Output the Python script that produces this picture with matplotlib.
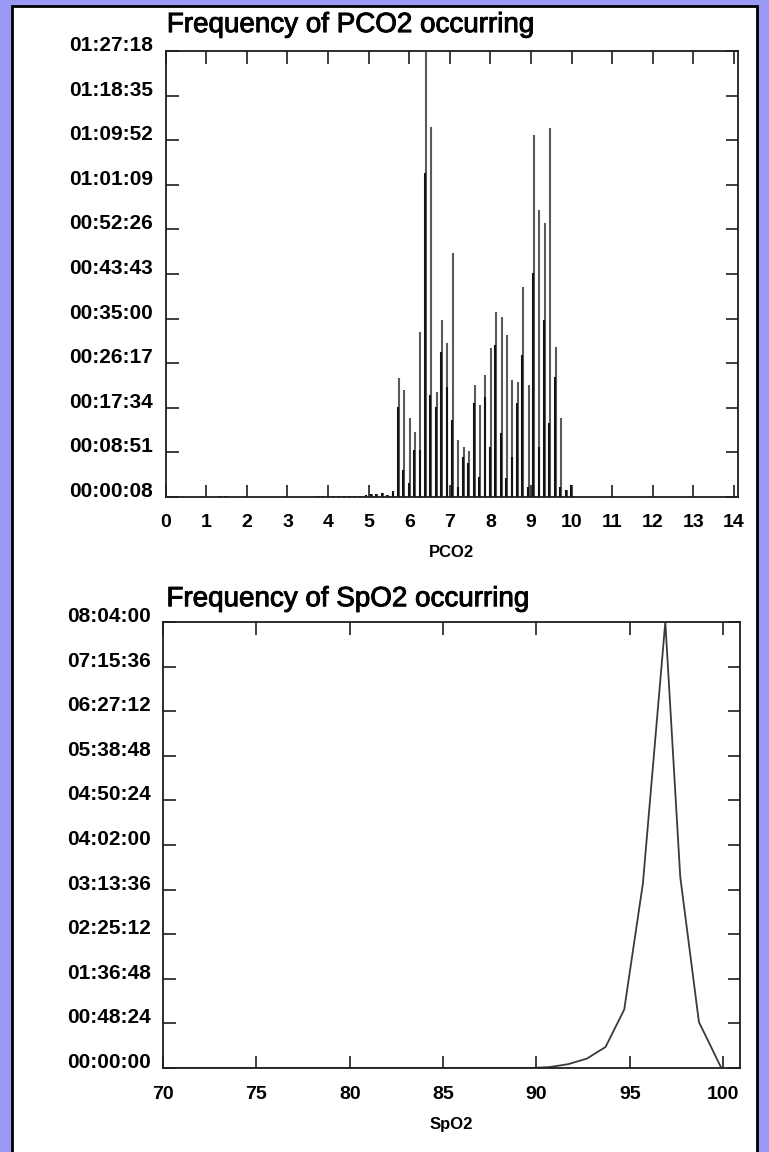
import numpy as np
import matplotlib
matplotlib.use("Agg")
from matplotlib import pyplot as plt
from matplotlib.patches import Rectangle
from matplotlib.ticker import FuncFormatter
import matplotlib.patheffects as pe

plt.rcParams['font.family'] = ['Liberation Sans', 'DejaVu Sans']
plt.rcParams['font.weight'] = 'bold'

MMHG_TO_KPA = 0.13332

# PCO2 histogram: one bin per mmHg, durations in seconds
pco2_bins_mmhg = list(range(10, 76))
pco2_upper_s = [
    15, 15, 12, 12, 0, 0, 0, 0, 10, 10, 10, 0, 0, 0, 12, 12, 12, 12, 15, 15,
    0, 15, 15, 20, 20, 20, 20, 30, 40, 45, 50, 30, 80,
    1400, 1263, 931, 774, 1946, 5400, 4347, 1243, 2084, 1810,
    2866, 676, 591, 551, 1321, 1087, 1439, 1752, 2177, 2119,
    1908, 1380, 1360, 2474, 1321, 4253, 3374, 3218, 4331, 1771,
    931, 90, 149,
]
pco2_lower_s = [
    15, 15, 12, 12, 0, 0, 0, 0, 10, 10, 10, 0, 0, 0, 12, 12, 12, 12, 15, 15,
    0, 15, 15, 20, 20, 20, 20, 30, 40, 45, 50, 30, 80,
    1067, 325, 172, 559, 559, 3808, 1204, 1067, 1712, 1302,
    911, 128, 481, 403, 1107, 246, 1184, 598, 1791, 755,
    231, 481, 1107, 1673, 128, 2631, 598, 2084, 872, 1419,
    128, 90, 149,
]
pco2_xticks = list(range(0, 15))

# SpO2 distribution, durations in seconds
spo2_pct = [69.7, 74.7, 79.7, 84.7, 89.7, 90.7, 91.7, 92.7, 93.7, 94.7,
            95.7, 96.9, 97.7, 98.7, 99.9]
spo2_s = [0, 0, 0, 0, 0, 60, 250, 612, 1368, 3805,
          12015, 29040, 12445, 2997, 0]
spo2_xticks = [70, 75, 80, 85, 90, 95, 100]


def hms(v, pos=None):
    v = int(round(v))
    return f'{v // 3600:02d}:{(v % 3600) // 60:02d}:{v % 60:02d}'


def style(ax, xpad):
    for s in ax.spines.values():
        s.set_linewidth(1.3)
        s.set_color('#1e1e1e')
    ax.tick_params(axis='both', direction='in', length=9, width=1.2,
                   color='#1e1e1e', top=True, right=True)
    ax.tick_params(axis='y', pad=9, labelsize=15)
    ax.tick_params(axis='x', pad=xpad, labelsize=14)
    ax.yaxis.set_major_formatter(FuncFormatter(hms))
    for lbl in ax.get_yticklabels():
        lbl.set_va('baseline')


title_fx = [pe.withStroke(linewidth=0.7, foreground='black')]

fig = plt.figure(figsize=(7.69, 11.52), dpi=100, facecolor='#9b99f6')
fig.patches.append(Rectangle((12 / 769, -0.01), 745 / 769, 1 - 6 / 1152 + 0.01,
                             transform=fig.transFigure, facecolor='white',
                             edgecolor='black', linewidth=2, zorder=-10))

# --- PCO2 ---
ax1 = fig.add_axes([165.7 / 769, 1 - 497 / 1152, 572.3 / 769, 446 / 1152])
x = np.array(pco2_bins_mmhg) * MMHG_TO_KPA
ax1.vlines(x + 0.01, 0, pco2_upper_s, colors='#5a5a5a', linewidth=1.5)
ax1.vlines(x - 0.01, 0, pco2_lower_s, colors='#121212', linewidth=1.5)
ax1.set_xlim(0, 14.1)
ax1.set_ylim(8, 5238)
ax1.set_xticks(pco2_xticks)
ax1.set_yticks(np.arange(8, 5239, 523))
style(ax1, 12)
ax1.set_xlabel('PCO2', fontsize=12, fontweight='bold', labelpad=10)
ax1.text(0.002, 1.029, 'Frequency of PCO2 occurring', transform=ax1.transAxes,
         fontsize=20, fontweight='normal', ha='left', va='bottom',
         path_effects=title_fx)

# --- SpO2 ---
ax2 = fig.add_axes([163 / 769, 1 - 1068 / 1152, 577 / 769, 446 / 1152])
ax2.plot(spo2_pct, spo2_s, color='#3a3a3a', linewidth=1.3)
ax2.set_xlim(70, 100.9)
ax2.set_ylim(0, 29040)
ax2.set_xticks(spo2_xticks)
ax2.set_yticks(np.arange(0, 29041, 2904))
style(ax2, 13)
ax2.set_xlabel('SpO2', fontsize=12, fontweight='bold', labelpad=10)
ax2.text(0.006, 1.022, 'Frequency of SpO2 occurring', transform=ax2.transAxes,
         fontsize=20, fontweight='normal', ha='left', va='bottom',
         path_effects=title_fx)

plt.savefig('out.png', dpi=100, facecolor=fig.get_facecolor())
